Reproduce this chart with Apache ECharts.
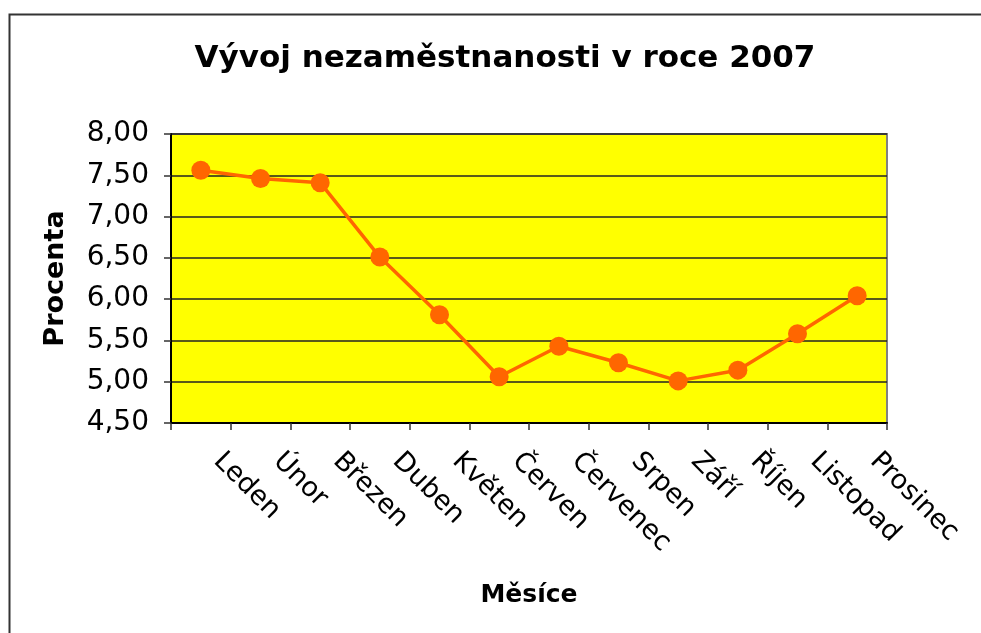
<!DOCTYPE html>
<html>
<head>
<meta charset="utf-8">
<script src="https://cdn.jsdelivr.net/npm/echarts@6/dist/echarts.min.js"></script>
<style>
html,body{margin:0;padding:0;background:#fff;}
#chart{width:981px;height:633px;}
</style>
</head>
<body>
<div id="chart"></div>
<script>
// data
var months = ['Leden','Únor','Březen','Duben','Květen','Červen','Červenec','Srpen','Září','Říjen','Listopad','Prosinec'];
var rate = [7.56, 7.46, 7.41, 6.51, 5.81, 5.06, 5.43, 5.23, 5.01, 5.14, 5.58, 6.04];
var yMin = 4.5, yMax = 8, yStep = 0.5;

var font = '"DejaVu Sans", Verdana, sans-serif';
var chart = echarts.init(document.getElementById('chart'));

var option = {
    animation: false,
    backgroundColor: '#fff',
    graphic: [{
        type: 'rect',
        left: 7, top: 12,
        shape: {width: 1100, height: 800},
        style: {fill: 'none', stroke: '#333', lineWidth: 2},
        z: -1
    }],
    title: {
        text: 'Vývoj nezaměstnanosti v roce 2007',
        left: 500, top: 38,
        textAlign: 'center',
        textStyle: {fontFamily: font, fontSize: 31, fontWeight: 'bold', color: '#000'}
    },
    grid: {
        left: 171, right: 94, top: 134, bottom: 210,
        show: true,
        backgroundColor: '#ffff00',
        borderColor: '#808080',
        borderWidth: 2
    },
    xAxis: {
        type: 'category',
        data: months,
        boundaryGap: true,
        name: 'Měsíce',
        nameLocation: 'middle',
        nameGap: 160,
        nameTextStyle: {fontFamily: font, fontSize: 25, fontWeight: 'bold', color: '#000'},
        axisLine: {lineStyle: {color: '#000', width: 2}},
        axisTick: {show: true, length: 7, lineStyle: {color: '#333', width: 1.5}},
        axisLabel: {
            rotate: -45, margin: 17, interval: 0,
            padding: [0, 0, 0, 24],
            fontFamily: font, fontSize: 27, color: '#000'
        },
        splitLine: {show: false}
    },
    yAxis: {
        type: 'value',
        min: yMin, max: yMax, interval: yStep,
        name: 'Procenta',
        nameLocation: 'middle',
        nameGap: 102,
        nameRotate: 90,
        nameTextStyle: {fontFamily: font, fontSize: 27, fontWeight: 'bold', color: '#000'},
        axisLine: {show: true, lineStyle: {color: '#000', width: 2}},
        axisTick: {show: true, length: 7, lineStyle: {color: '#333', width: 1.5}},
        axisLabel: {
            margin: 22,
            fontFamily: font, fontSize: 28, color: '#000',
            formatter: function (v) { return v.toFixed(2).replace('.', ','); }
        },
        splitLine: {show: true, lineStyle: {color: '#222', width: 1.5}}
    },
    series: [{
        type: 'line',
        data: rate,
        symbol: 'circle',
        symbolSize: 19,
        lineStyle: {color: '#ff6600', width: 3.5},
        itemStyle: {color: '#ff6600'}
    }]
};

chart.setOption(option);
</script>
</body>
</html>
